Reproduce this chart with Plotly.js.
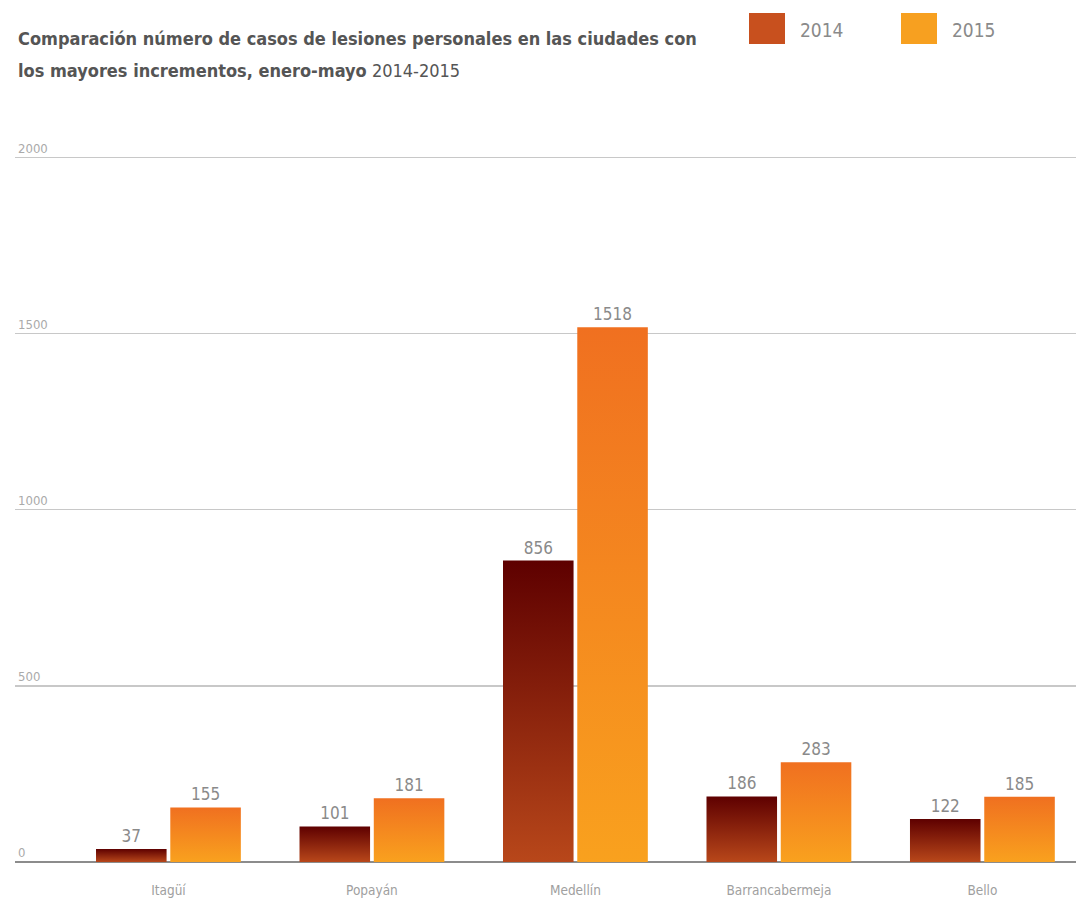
<!DOCTYPE html>
<html><head><meta charset="utf-8">
<script src="https://cdn.plot.ly/plotly-3.0.1.min.js"></script>
<style>body{margin:0;background:#fff}#chart{width:1076px;height:899px}</style>
</head><body><div id="chart"></div>
<script>
const cities = ['Itagüí', 'Popayán', 'Medellín', 'Barrancabermeja', 'Bello'];
const values2014 = [37, 101, 856, 186, 122];
const values2015 = [155, 181, 1518, 283, 185];
const yTickValues = [0, 500, 1000, 1500, 2000];
const seriesNames = ['2014', '2015'];
const titleLine1 = 'Comparación número de casos de lesiones personales en las ciudades con';
const titleLine2Bold = 'los mayores incrementos, enero-mayo';
const titleLine2Rest = '2014-2015';

const W = 1076, H = 899;
const M = {l: 15, r: 0, t: 140, b: 37};
const pw = W - M.l - M.r, ph = H - M.t - M.b;
const px = x => (x - M.l) / pw;
const py = y => (H - M.b - y) / ph;

const FONT = '"DejaVu Sans Condensed", "Liberation Sans Narrow", Roboto, sans-serif';

const traces = [
  {type: 'bar', name: seriesNames[0], x: cities, y: values2014,
   marker: {color: '#8a2a0e'}, texttemplate: '%{y}', textposition: 'outside',
   textfont: {color: '#8a8a8a', size: 17, family: FONT}, cliponaxis: false,
   hoverinfo: 'x+y'},
  {type: 'bar', name: seriesNames[1], x: cities, y: values2015,
   marker: {color: '#f58a20'}, texttemplate: '%{y}', textposition: 'outside',
   textfont: {color: '#8a8a8a', size: 17, family: FONT}, cliponaxis: false,
   hoverinfo: 'x+y'}
];

const layout = {
  width: W, height: H,
  margin: M,
  paper_bgcolor: '#fff', plot_bgcolor: '#fff',
  showlegend: false,
  barmode: 'group', bargap: 0.27, bargroupgap: 0.05,
  font: {family: FONT, color: '#999'},
  xaxis: {type: 'category', range: [-0.754, 4.46], showgrid: false, showline: false,
          zeroline: false, ticks: '', tickfont: {size: 13.5, color: '#a0a0a0', family: FONT},
          ticklabelstandoff: 18},
  yaxis: {range: [0, 2050], tickvals: yTickValues, ticktext: yTickValues.map(String),
          showgrid: true, gridcolor: '#c8c8c8', gridwidth: 1.3,
          zeroline: true, zerolinecolor: '#8c8c8c', zerolinewidth: 2,
          showline: false, ticks: '', ticklabelposition: 'inside top',
          tickfont: {size: 13, color: '#aaa', family: FONT}},
  annotations: [
    {xref: 'paper', yref: 'paper', x: px(16), y: py(38), xanchor: 'left', yanchor: 'middle',
     text: '<b>' + titleLine1 + '</b>', showarrow: false,
     font: {size: 18, color: '#555', family: FONT}},
    {xref: 'paper', yref: 'paper', x: px(16), y: py(70), xanchor: 'left', yanchor: 'middle',
     text: '<b>' + titleLine2Bold + '</b> ' + titleLine2Rest, showarrow: false,
     font: {size: 18, color: '#555', family: FONT}},
    {xref: 'paper', yref: 'paper', x: px(798), y: py(30), xanchor: 'left', yanchor: 'middle',
     text: seriesNames[0], showarrow: false, font: {size: 19, color: '#8a8a8a', family: FONT}},
    {xref: 'paper', yref: 'paper', x: px(950), y: py(30), xanchor: 'left', yanchor: 'middle',
     text: seriesNames[1], showarrow: false, font: {size: 19, color: '#8a8a8a', family: FONT}}
  ],
  shapes: [
    {type: 'rect', xref: 'paper', yref: 'paper', x0: px(749), x1: px(785), y0: py(44), y1: py(13),
     fillcolor: '#c8501e', line: {width: 0}},
    {type: 'rect', xref: 'paper', yref: 'paper', x0: px(901), x1: px(937), y0: py(44), y1: py(13),
     fillcolor: '#f7a020', line: {width: 0}}
  ]
};

function applyGradients(gd) {
  const svg = gd.querySelector('svg.main-svg');
  if (!svg) return;
  const ns = 'http://www.w3.org/2000/svg';
  let defs = svg.querySelector('defs');
  if (!defs) { defs = document.createElementNS(ns, 'defs'); svg.insertBefore(defs, svg.firstChild); }
  const grads = [
    {id: 'g2014', top: '#5e0000', bottom: '#b8471a'},
    {id: 'g2015', top: '#f07020', bottom: '#f9a11e'}
  ];
  grads.forEach(g => {
    const lg = document.createElementNS(ns, 'linearGradient');
    lg.setAttribute('id', g.id);
    lg.setAttribute('x1', '0'); lg.setAttribute('y1', '0');
    lg.setAttribute('x2', '0'); lg.setAttribute('y2', '1');
    const s1 = document.createElementNS(ns, 'stop');
    s1.setAttribute('offset', '0'); s1.setAttribute('stop-color', g.top);
    const s2 = document.createElementNS(ns, 'stop');
    s2.setAttribute('offset', '1'); s2.setAttribute('stop-color', g.bottom);
    lg.appendChild(s1); lg.appendChild(s2); defs.appendChild(lg);
  });
  const traceGroups = gd.querySelectorAll('.barlayer .trace');
  traceGroups.forEach((tg, i) => {
    tg.querySelectorAll('.point path').forEach(p => { p.style.fill = 'url(#' + grads[i].id + ')'; });
  });
}

Plotly.newPlot('chart', traces, layout, {displayModeBar: false, staticPlot: true})
  .then(gd => applyGradients(gd));
</script>
</body></html>
